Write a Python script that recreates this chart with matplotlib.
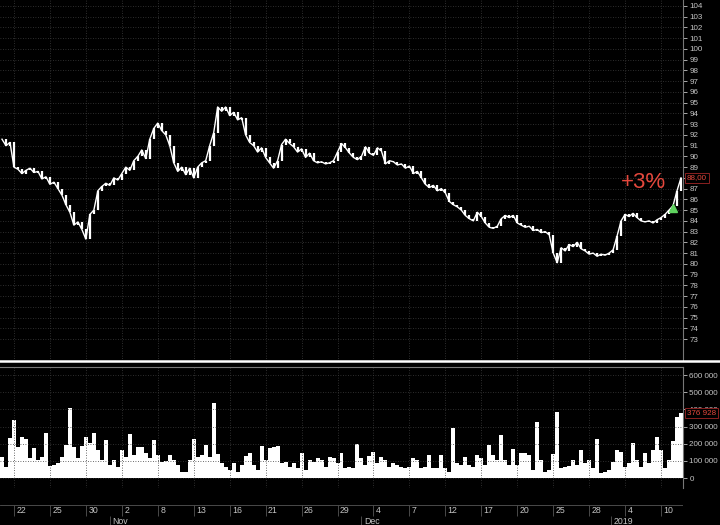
import matplotlib
matplotlib.use("Agg")
import matplotlib.pyplot as plt
from matplotlib.lines import Line2D

# hourly closes, left to right
prices = [
    91.6, 91.0, 91.3, 89.0, 88.8, 88.4, 88.7, 88.9, 88.5, 88.6,
    87.9, 88.1, 87.4, 87.6, 87.0, 86.4, 85.5, 84.8, 83.6, 83.9,
    83.2, 82.3, 84.6, 85.0, 86.8, 87.2, 87.5, 87.3, 88.0, 87.8,
    88.4, 89.0, 88.7, 89.6, 90.0, 90.6, 89.8, 91.6, 92.6, 93.1,
    92.4, 92.0, 91.0, 89.4, 88.6, 89.0, 88.3, 88.9, 88.0, 89.0,
    89.4, 89.6, 91.0, 92.2, 94.6, 94.2, 94.6, 93.8, 94.1, 93.4,
    93.6, 92.0, 91.3, 91.0, 90.4, 90.8, 89.9, 89.4, 88.9, 89.6,
    91.1, 91.6, 91.2, 90.9, 90.4, 90.7, 89.9, 90.3, 89.6, 89.4,
    89.5, 89.3, 89.4, 89.6, 90.4, 91.2, 90.8, 90.3, 89.9, 89.7,
    90.0, 90.9, 90.3, 90.1, 90.8, 90.5, 89.3, 89.6, 89.5, 89.2,
    89.3, 88.9, 89.1, 88.4, 88.6, 88.0, 87.4, 87.1, 87.3, 86.8,
    87.0, 86.6, 85.8, 85.5, 85.3, 85.0, 84.5, 84.2, 84.0, 84.8,
    84.4, 83.8, 83.4, 83.3, 83.5, 84.2, 84.5, 84.3, 84.5, 83.8,
    83.6, 83.4, 83.5, 83.1, 83.2, 82.9, 83.0, 82.7, 81.0, 80.1,
    81.5, 81.2, 81.8, 81.6, 82.0, 81.4, 81.2, 80.9, 81.0, 80.7,
    80.9, 80.8, 81.0, 81.3, 82.6, 84.0, 84.6, 84.4, 84.7, 84.3,
    84.0, 83.9, 84.0, 83.8, 84.1, 84.3, 84.6, 85.0, 85.4, 86.8,
    88.0,
]

volumes = [
    124000, 66000, 231000, 338000, 182000, 237000, 225000, 115000, 173000, 105000,
    124000, 264000, 70000, 76000, 85000, 124000, 192000, 406000, 182000, 115000,
    186000, 237000, 202000, 264000, 163000, 105000, 221000, 76000, 105000, 66000,
    163000, 124000, 256000, 134000, 182000, 179000, 144000, 115000, 221000, 134000,
    95000, 101000, 134000, 105000, 76000, 37000, 37000, 105000, 225000, 124000,
    134000, 192000, 124000, 435000, 140000, 85000, 66000, 47000, 85000, 37000,
    76000, 128000, 144000, 76000, 47000, 186000, 105000, 173000, 179000, 186000,
    85000, 95000, 66000, 85000, 56000, 144000, 47000, 105000, 95000, 115000,
    105000, 66000, 124000, 115000, 85000, 148000, 56000, 62000, 56000, 196000,
    115000, 76000, 128000, 153000, 85000, 124000, 105000, 66000, 89000, 76000,
    66000, 56000, 66000, 115000, 105000, 56000, 66000, 134000, 56000, 56000,
    134000, 56000, 37000, 289000, 85000, 76000, 120000, 76000, 66000, 134000,
    115000, 76000, 192000, 134000, 105000, 250000, 105000, 76000, 167000, 76000,
    144000, 144000, 134000, 47000, 328000, 105000, 37000, 47000, 140000, 386000,
    56000, 66000, 70000, 105000, 76000, 163000, 85000, 105000, 56000, 225000,
    27000, 37000, 47000, 95000, 163000, 153000, 66000, 85000, 202000, 105000,
    66000, 144000, 85000, 163000, 237000, 163000, 56000, 105000, 217000, 357000,
    376928,
]

day_labels = ['22', '25', '30', '2', '8', '13', '16', '21', '26', '29',
              '4', '7', '12', '17', '20', '25', '28', '4', '10']
day_pos = [3 + 9 * k for k in range(len(day_labels))]
month_labels = ['Nov', 'Dec', '2019']
month_pos = [27, 90, 152.5]

price_ticks = list(range(73, 105))
vol_ticks = [0, 100000, 200000, 300000, 400000, 500000, 600000]

BG = '#000000'
GRID = '#3c3c3c'
TXT = '#c4c4c4'
RED = '#e5483d'
FONT = 'Liberation Sans'
FS = 5.8


def fmt_vol(v):
    return f"{v:,}".replace(',', ' ')


def main():
    plt.rcParams['font.family'] = [FONT, 'DejaVu Sans']
    n = len(prices)
    idx = list(range(n))
    xlim = (-0.5, n - 0.5)

    fig = plt.figure(figsize=(7.2, 5.25), dpi=100, facecolor=BG)
    right = 683 / 720

    # price panel: thin line plus a bar from previous close to close
    ax = fig.add_axes([0, 1 - 361 / 525, right, 361 / 525], facecolor=BG)
    ax.plot(idx, prices, color='white', lw=1.0)
    lows = [min(prices[max(i - 1, 0)], prices[i]) for i in idx]
    highs = [max(prices[max(i - 1, 0)], prices[i]) for i in idx]
    ax.vlines(idx, lows, highs, color='white', lw=1.6)
    ax.plot([168], [85.2], marker='^', color='#5fd35f', ms=6, ls='none')
    ax.text(160.5, 87.6, '+3%', color=RED, fontsize=16,
            ha='center', va='center')
    ax.set_xlim(*xlim)
    ax.set_ylim(73 - 22 / 10.742, 104 + 6 / 10.742)
    ax.yaxis.tick_right()
    ax.set_yticks(price_ticks)
    ax.set_yticklabels(['' if t == round(prices[-1]) else str(t)
                        for t in price_ticks])
    ax.set_xticks(day_pos)
    ax.tick_params(axis='x', length=0, labelbottom=False)
    ax.tick_params(axis='y', colors=TXT, labelsize=FS, length=3,
                   width=0.6, pad=1.5)
    ax.grid(True, color=GRID, lw=0.6, ls=(0, (1, 2)))
    for s in ['top', 'left', 'bottom']:
        ax.spines[s].set_visible(False)
    ax.spines['right'].set_color('#777777')
    ax.spines['right'].set_linewidth(0.8)
    ax.annotate(f"{prices[-1]:.2f}".replace('.', ','),
                xy=(1.006, prices[-1]), xycoords=('axes fraction', 'data'),
                color=RED, fontsize=FS, va='center', ha='left',
                bbox=dict(boxstyle='square,pad=0.2', fc=BG, ec='#8a2020',
                          lw=0.7))

    # volume panel
    ax2 = fig.add_axes([0, 1 - 488 / 525, right, 121 / 525], facecolor=BG)
    ax2.bar(idx, volumes, width=1.0, color='white', lw=0)
    ax2.set_xlim(*xlim)
    ax2.set_ylim(-58000, 646600)
    ax2.yaxis.tick_right()
    ax2.set_yticks(vol_ticks)
    ax2.set_yticklabels([fmt_vol(v) for v in vol_ticks])
    ax2.set_xticks(day_pos)
    ax2.tick_params(axis='x', length=0, labelbottom=False)
    ax2.tick_params(axis='y', colors=TXT, labelsize=FS, length=3,
                    width=0.6, pad=1.5)
    ax2.grid(True, color=GRID, lw=0.6, ls=(0, (1, 2)))
    for s in ['left', 'bottom']:
        ax2.spines[s].set_visible(False)
    ax2.spines['top'].set_color('#777777')
    ax2.spines['top'].set_linewidth(0.8)
    ax2.spines['right'].set_color('#777777')
    ax2.spines['right'].set_linewidth(0.8)
    ax2.annotate(fmt_vol(volumes[-1]),
                 xy=(1.006, volumes[-1]), xycoords=('axes fraction', 'data'),
                 color=RED, fontsize=FS, va='center', ha='left',
                 bbox=dict(boxstyle='square,pad=0.2', fc=BG, ec='#8a2020',
                           lw=0.7))

    # separator between panels
    fig.add_artist(Line2D([0, 1], [1 - 361 / 525] * 2, color='white', lw=1.8))

    # date strip
    ax3 = fig.add_axes([0, 0, right, 37 / 525], facecolor=BG)
    ax3.set_xlim(*xlim)
    ax3.set_ylim(37, 0)
    ax3.axis('off')
    ax3.axhline(17, color='#555555', lw=0.6)
    ax3.vlines(day_pos, 17, 28, color='#555555', lw=0.6)
    for p, lab in zip(day_pos, day_labels):
        ax3.text(p + 0.6, 22.5, lab, color=TXT, fontsize=6.3,
                 ha='left', va='center')
    ax3.vlines(month_pos, 28, 37, color='#555555', lw=0.6)
    for p, lab in zip(month_pos, month_labels):
        ax3.text(p + 0.6, 33, lab, color=TXT, fontsize=6.3,
                 ha='left', va='center')

    fig.savefig('out.png', dpi=100, facecolor=BG)


if __name__ == "__main__":
    main()
